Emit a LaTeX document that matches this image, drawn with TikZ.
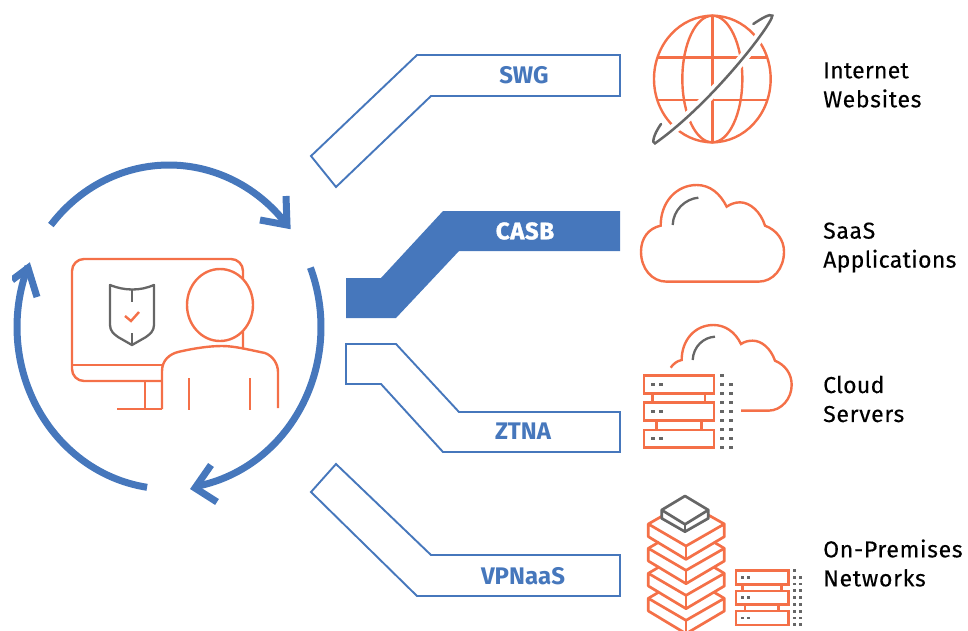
\documentclass[tikz,border=0pt]{standalone}
\usepackage{fontspec}
\setmainfont{Fira Sans}
\definecolor{bandblue}{HTML}{4677BC}
\definecolor{icoorange}{HTML}{F47048}
\definecolor{icogray}{HTML}{666666}
\tikzset{
  band/.style={draw=bandblue,line width=1.9pt,fill=white,line join=miter},
  bandfill/.style={fill=bandblue},
  bandlabel/.style={text=bandblue,font=\fontsize{24}{24}\selectfont\bfseries,anchor=center,inner sep=0pt},
  sidelabel/.style={text=black,font=\fontsize{23}{29}\selectfont\addfontfeatures{LetterSpace=3,FakeBold=0.25},align=left,anchor=west,inner sep=0pt},
  ring/.style={draw=bandblue,line width=7pt},
  ringtip/.style={draw=bandblue,line width=7pt,line join=miter},
  ora/.style={draw=icoorange,line width=2.4pt},
  orathick/.style={draw=icoorange,line width=2.7pt},
  gra/.style={draw=icogray,line width=2.3pt},
  zoomone/.style={x=0.33333pt,y=-0.33333pt,shift={(630pt,0pt)}},
  zoomtwo/.style={x=0.33333pt,y=-0.33333pt,shift={(630pt,-310pt)}},
  dotbox/.style={fill=icogray,minimum width=4pt,minimum height=2.6pt,inner sep=0pt}
}
\begin{document}
\begin{tikzpicture}[x=1pt,y=-1pt]
\useasboundingbox (0,0) rectangle (968,630);
\clip (12,0) rectangle (968,630);
% bands
\draw[band] (311,156) -- (417,55) -- (620,55) -- (620,96) -- (431,96) -- (336,187) -- cycle;
\fill[bandfill] (346,278) -- (381,278) -- (443,211) -- (620,211) -- (620,251) -- (459,251) -- (396,318) -- (346,318) -- cycle;
\draw[band] (346,344) -- (396,344) -- (459,412) -- (620,412) -- (620,452) -- (443,452) -- (381,384) -- (346,384) -- cycle;
\draw[band] (311,492) -- (336,464) -- (431,555) -- (620,555) -- (620,596) -- (417,596) -- cycle;
\node[bandlabel] (swg) at (524,75) {SWG};
\node[bandlabel,text=white,font=\fontsize{24}{24}\selectfont\bfseries\addfontfeatures{LetterSpace=2.5,FakeBold=1.4}] (casb) at (525,231) {CASB};
\node[bandlabel] (ztna) at (523,431) {ZTNA};
\node[bandlabel] (vpn) at (523,576) {VPNaaS};
% ring
\draw[ring] plot[domain=141:39,samples=60] ({169+152*cos(\x)},{327-162*sin(\x)});
\draw[ring] plot[domain=21.5:-79.5,samples=60] ({169+152*cos(\x)},{327-162*sin(\x)});
\draw[ring] plot[domain=261.7:158,samples=60] ({169+152*cos(\x)},{327-162*sin(\x)});
\draw[ringtip] (286,196) -- (287,225) -- (260,220);
\draw[ringtip] (211,465) -- (195,488) -- (217,502);
\draw[ringtip] (12,280) -- (28,268) -- (37,297);
% monitor
\draw[ora,rounded corners=12pt] (162,381) -- (72,381) -- (72,259) -- (243,259) -- (243,349);
\draw[ora] (72,365) -- (163,365);
\draw[ora] (145,381) -- (145,409);
\draw[ora] (117,409) -- (162,409);
% person
\draw[ora,fill=white] (220,305) ellipse[x radius=33,y radius=36];
\draw[ora] (162,409) -- (162,371) .. controls (162,360) and (170,354) .. (178,352) .. controls (195,348) and (210,346) .. (222,346) .. controls (235,346) and (250,350) .. (265,353) .. controls (273,356) and (278,364) .. (278,372) -- (278,408);
\draw[ora] (189,378) -- (189,410);
\draw[ora] (250,378) -- (250,410);
% shield
\draw[gra,line join=round] (110,285) .. controls (125,291) and (140,291) .. (154,285) -- (154,325) .. controls (154,331) and (150,334) .. (146,337) -- (132,345) -- (118,337) .. controls (114,334) and (110,331) .. (110,325) -- cycle;
\draw[gra] (132,290) -- (132,302);
\draw[gra] (132,333) -- (132,345);
\draw[ora] (125,316) -- (131,321) -- (139,312);
% globe
\begin{scope}[zoomone]
\draw[ora] (247,237) ellipse[x radius=175,y radius=190];
\draw[ora] (247,237) ellipse[x radius=90,y radius=190];
\draw[ora] (247,47) -- (247,427);
\draw[ora] (82,173) -- (412,173);
\draw[ora] (82,300) -- (412,300);
\draw[draw=white,line width=10pt] (427,47) .. controls (425,75) and (245,310) .. (75,430);
\draw[gra,line cap=round,line width=2.5pt] (370,72) .. controls (395,55) and (420,40) .. (427,47) .. controls (425,75) and (245,310) .. (75,430) .. controls (65,430) and (70,405) .. (93,372);
% cloud one
\draw[ora] (110,845) -- (385,845) .. controls (430,845) and (462,805) .. (462,755) .. controls (462,720) and (440,690) .. (405,677) .. controls (392,635) and (360,607) .. (330,607) .. controls (315,607) and (302,612) .. (290,620) .. controls (270,580) and (240,555) .. (200,555) .. controls (140,555) and (92,605) .. (92,677) .. controls (55,685) and (33,715) .. (33,755) .. controls (33,805) and (65,845) .. (110,845) -- cycle;
\draw[gra] (128,675) .. controls (130,630) and (165,597) .. (205,593);
\end{scope}
\begin{scope}[zoomtwo]
% cloud two
\draw[ora] (333,302) -- (415,302) .. controls (455,302) and (485,265) .. (485,225) .. controls (485,190) and (465,165) .. (435,152) .. controls (422,115) and (395,92) .. (368,92) .. controls (355,92) and (343,95) .. (333,102) .. controls (315,65) and (285,45) .. (250,45) .. controls (195,45) and (155,90) .. (155,150) .. controls (140,153) and (130,162) .. (122,173);
\draw[gra] (188,150) .. controls (190,110) and (220,82) .. (255,80);
% server one
\draw[orathick] (42,197) rectangle (252,250);
\draw[orathick] (42,278) rectangle (252,332);
\draw[orathick] (42,360) rectangle (252,413);
\draw[orathick] (68,250) -- (68,278) (225,250) -- (225,278);
\draw[orathick] (80,332) -- (80,360) (214,332) -- (214,360);
\foreach \yy in {223,304,385} {\node[dotbox] at (68,\yy) {}; \node[dotbox] at (93,\yy) {};}
\node[dotbox] at (275,197) {};
\foreach \yy in {224,251,278,305,332,359,386,413} {\node[dotbox] at (275,\yy) {}; \node[dotbox] at (302,\yy) {};}
% stack
\foreach \dy in {223,148,73,0} {
\draw[orathick,line join=round,fill=white] (55,642+\dy) -- (168,708+\dy) -- (283,642+\dy) -- (283,680+\dy) -- (168,748+\dy) -- (55,680+\dy) -- cycle;
\draw[orathick] (168,708+\dy) -- (168,748+\dy);
}
\foreach \dy in {223,148,73} {
\draw[orathick] (55,642+\dy) -- (87,623+\dy);
\draw[orathick] (283,642+\dy) -- (251,623+\dy);
}
\draw[orathick] (55,642) -- (95,619);
\draw[orathick] (283,642) -- (235,615);
\draw[gra,line width=2.7pt,line join=round,fill=white] (165,558) -- (235,600) -- (235,625) -- (165,665) -- (95,625) -- (95,600) -- cycle;
\draw[gra,line width=2.7pt,line join=round] (95,600) -- (165,643) -- (235,600);
\draw[gra,line width=2.7pt] (165,643) -- (165,665);
% server two
\draw[orathick] (318,782) rectangle (475,823);
\draw[orathick] (318,843) rectangle (475,884);
\draw[orathick] (318,903) rectangle (475,945);
\draw[orathick] (338,823) -- (338,843) (455,823) -- (455,843);
\draw[orathick] (345,884) -- (345,903) (445,884) -- (445,903);
\foreach \yy in {802,863,924} {\node[dotbox,minimum width=3.4pt,minimum height=2.4pt] at (338,\yy) {}; \node[dotbox,minimum width=3.4pt,minimum height=2.4pt] at (356,\yy) {};}
\node[dotbox,minimum width=3.4pt,minimum height=2.4pt] at (493,782) {};
\foreach \yy in {802,822,842,862,883,904,924,944} {\node[dotbox,minimum width=3.4pt,minimum height=2.4pt] at (493,\yy) {}; \node[dotbox,minimum width=3.4pt,minimum height=2.4pt] at (512,\yy) {};}
\end{scope}
% side labels
\node[sidelabel] (inet) at (823,85) {{\addfontfeatures{LetterSpace=1}Internet}\\Websites};
\node[sidelabel] (saas) at (823,247.5) {SaaS\\{\addfontfeatures{LetterSpace=1.5}Applications}};
\node[sidelabel] (cloud) at (823,399) {{\addfontfeatures{LetterSpace=1.5}Cloud}\\Servers};
\node[sidelabel] (onprem) at (823,563) {On-Premises\\Networks};
\end{tikzpicture}
\end{document}
